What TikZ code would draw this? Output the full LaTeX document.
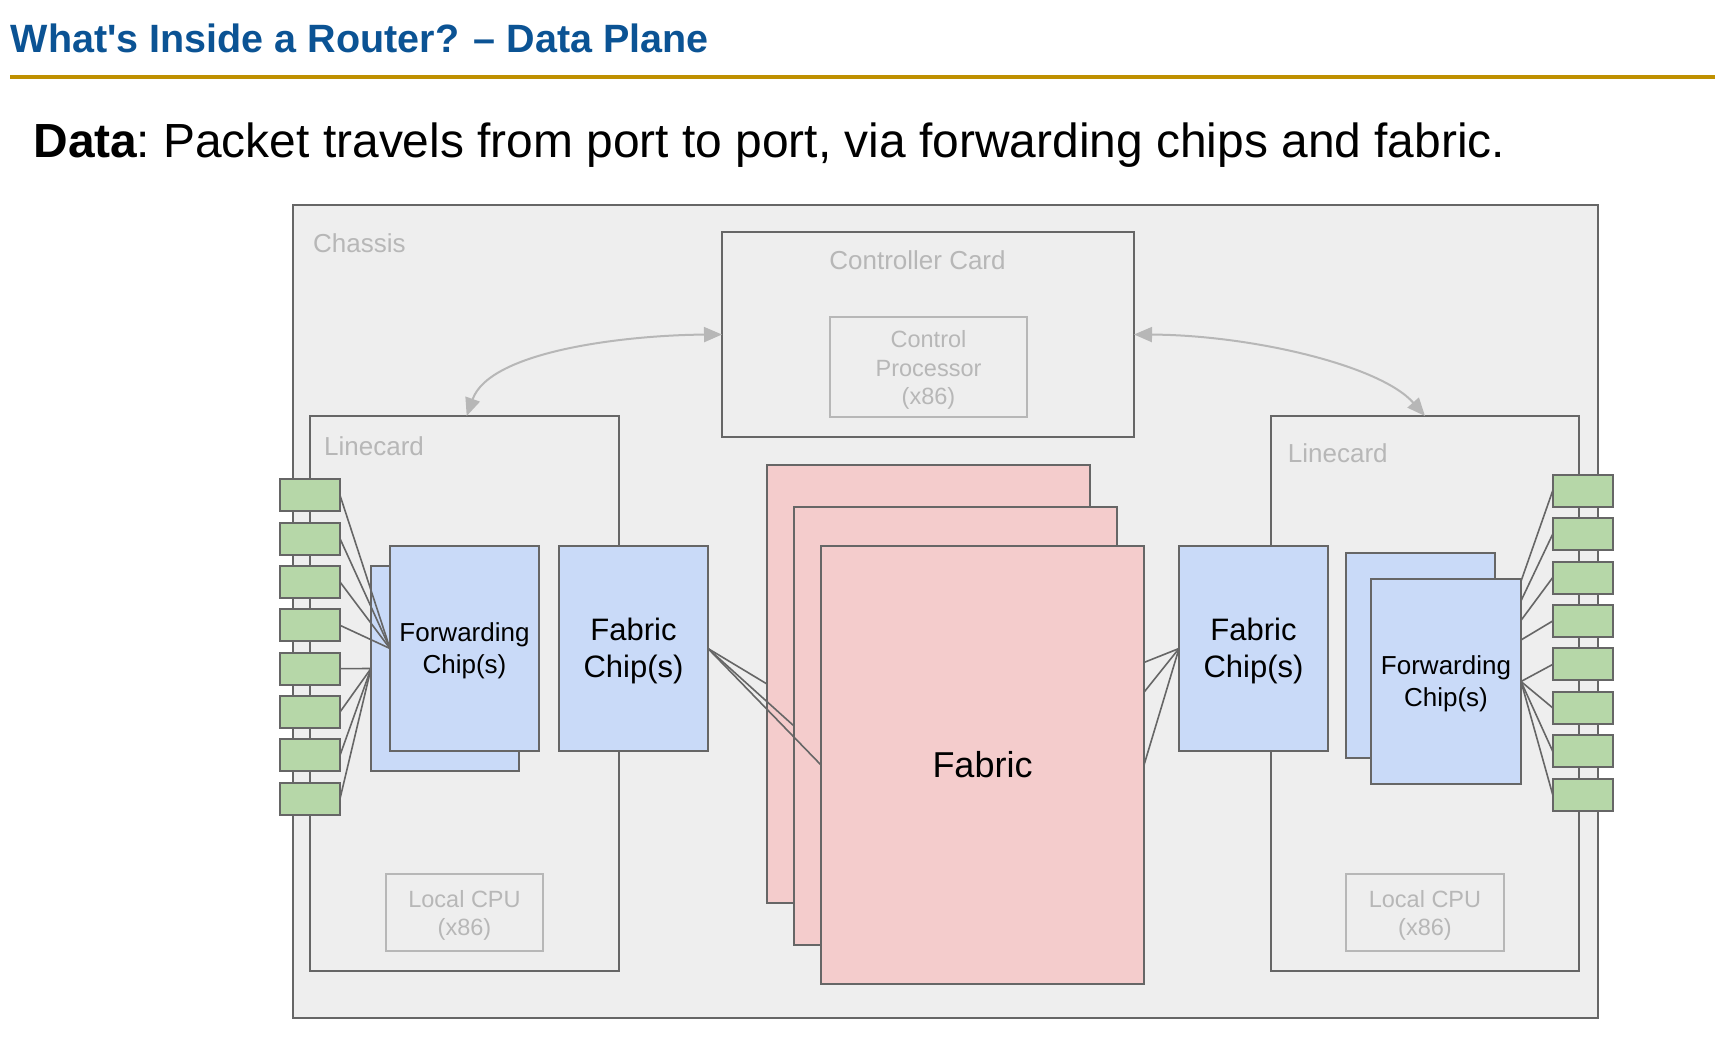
\documentclass[tikz,border=0pt]{standalone}
\usepackage{fontspec}
\setmainfont{Liberation Sans}
\usetikzlibrary{arrows.meta}
\definecolor{bordergray}{HTML}{666666}
\definecolor{lightgray}{HTML}{B7B7B7}
\definecolor{chassisfill}{HTML}{EEEEEE}
\definecolor{chipblue}{HTML}{C9DAF8}
\definecolor{fabpink}{HTML}{F4CCCC}
\definecolor{portgreen}{HTML}{B6D7A8}
\definecolor{titleblue}{HTML}{0B5394}
\definecolor{gold}{HTML}{BF9000}
\begin{document}
\begin{tikzpicture}[x=1pt,y=-1pt,
  box/.style={draw=bordergray, line width=2pt, fill=chassisfill, anchor=north west, inner sep=0pt, outer sep=0pt},
  softbox/.style={draw=lightgray, line width=2pt, fill=chassisfill, anchor=north west, inner sep=0pt, outer sep=0pt},
  softtext/.style={text=lightgray, align=center, inner sep=0pt, yshift=-3pt, font=\fontsize{23.5}{28.5}\selectfont},
  chip/.style={draw=bordergray, line width=2pt, fill=chipblue, anchor=north west, inner sep=0pt, outer sep=0pt},
  fwdtext/.style={align=center, inner sep=0pt, yshift=-2pt, font=\fontsize{26}{32}\selectfont},
  fabtext/.style={align=center, inner sep=0pt, yshift=-2.5pt, font=\fontsize{31}{36.7}\selectfont},
  fabcard/.style={draw=bordergray, line width=2pt, fill=fabpink, anchor=north west, inner sep=0pt, outer sep=0pt, minimum width=323pt, minimum height=438pt},
  port/.style={draw=bordergray, line width=2pt, fill=portgreen, anchor=north west, inner sep=0pt, outer sep=0pt, minimum width=60pt, minimum height=32pt},
  lbl/.style={text=lightgray, inner sep=0pt, font=\fontsize{26}{30}\selectfont},
  wire/.style={draw=bordergray, line width=1.6pt},
  carrow/.style={draw=lightgray, line width=2pt, {Triangle[length=18pt,width=15pt]}-{Triangle[length=18pt,width=15pt]}}
]
\useasboundingbox[fill=white] (0,0) rectangle (1715,1056);

% header
\node[anchor=base west, inner sep=0pt, text=titleblue, font=\fontsize{39.5}{40}\selectfont\bfseries] (title) at (10.7,52.7) {What\textquotesingle s Inside a Router? – Data Plane};
\coordinate (r0) at (10,77.2);
\coordinate (r1) at (1715,77.2);
\draw[gold, line width=4pt] (r0) -- (r1);
\node[anchor=base west, inner sep=0pt, font=\fontsize{47.9}{49}\selectfont] (sub) at (33.3,157.3) {\textbf{Data}\kern-0.03em:\kern-0.08em{} Packet travels from port to port, via forwarding chips and fabric.};

% chassis
\node[box, minimum width=1305pt, minimum height=813pt] (chassis) at (293,205) {};
\node[lbl, anchor=base west] (chl) at (313,252.7) {Chassis};

% controller card
\node[box, minimum width=412pt, minimum height=205pt] (cc) at (722,232) {};
\node[lbl, anchor=base] (ccl) at (917.5,270) {Controller Card};
\node[softbox, minimum width=197pt, minimum height=100pt, label={[softtext]center:{Control\\Processor\\(x86)}}] (cp) at (830,317) {};

% linecards
\node[box, minimum width=309pt, minimum height=555pt] (lcL) at (310,416) {};
\node[box, minimum width=308pt, minimum height=555pt] (lcR) at (1271,416) {};
\node[lbl, anchor=base west] (lcLl) at (324,455) {Linecard};
\node[lbl, anchor=base west] (lcRl) at (1287.7,462.7) {Linecard};
\node[softbox, minimum width=157pt, minimum height=77pt, label={[softtext]center:{Local CPU\\(x86)}}] (cpuL) at (386,874) {};
\node[softbox, minimum width=158pt, minimum height=77pt, label={[softtext]center:{Local CPU\\(x86)}}] (cpuR) at (1346,874) {};

% control arrows
\coordinate (aL) at (466.7,416);
\coordinate (aR) at (1425,416);
\draw[carrow] (aL) .. controls (490,350) and (630,335) .. (cc.west);
\draw[carrow] (cc.east) .. controls (1250,335) and (1380,365) .. (aR);

% ports
\foreach \i in {1,...,8} {
  \node[port] (pL\i) at (280,{479.3+(\i-1)*43.34}) {};
  \node[port] (pR\i) at (1552.7,{474.7+(\i-1)*43.43}) {};
}

% fabric chips
\node[chip, minimum width=149pt, minimum height=205pt, label={[fabtext]center:{Fabric\\Chip(s)}}] (fabL) at (559,546) {};
\node[chip, minimum width=149pt, minimum height=205pt, label={[fabtext]center:{Fabric\\Chip(s)}}] (fabR) at (1179,546) {};

% fabric cards
\node[fabcard] (fab1) at (767,465) {};
\draw[wire] (fabL.east) -- (fab1.west);
\draw[wire] (fabR.west) -- (fab1.east);
\node[fabcard] (fab2) at (794,507) {};
\draw[wire] (fabL.east) -- (fab2.west);
\draw[wire] (fabR.west) -- (fab2.east);
\node[fabcard, font=\fontsize{36}{40}\selectfont] (fab3) at (821,546) {Fabric};
\draw[wire] (fabL.east) -- (fab3.west);
\draw[wire] (fabR.west) -- (fab3.east);

% forwarding chips (back)
\node[chip, minimum width=148pt, minimum height=205pt] (fwdLb) at (371,566) {};
\node[chip, minimum width=149pt, minimum height=205pt] (fwdRb) at (1346,553) {};
\foreach \i in {5,...,8} \draw[wire] (pL\i.east) -- (fwdLb.west);
\foreach \i in {1,...,4} \draw[wire] (pR\i.west) -- (fwdRb.east);

% forwarding chips (front)
\node[chip, minimum width=149pt, minimum height=205pt, label={[fwdtext]center:{Forwarding\\Chip(s)}}] (fwdLf) at (390,546) {};
\node[chip, minimum width=150pt, minimum height=205pt, label={[fwdtext]center:{Forwarding\\Chip(s)}}] (fwdRf) at (1371,579) {};
\foreach \i in {1,...,4} \draw[wire] (pL\i.east) -- (fwdLf.west);
\foreach \i in {5,...,8} \draw[wire] (pR\i.west) -- (fwdRf.east);
\end{tikzpicture}
\end{document}
